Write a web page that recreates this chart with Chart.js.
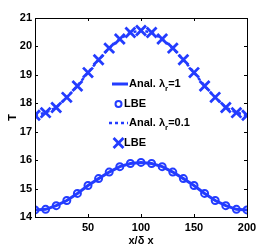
<!DOCTYPE html>
<html>
<head>
<meta charset="utf-8">
<script src="https://cdn.jsdelivr.net/npm/chart.js@4.4.1/dist/chart.umd.min.js"></script>
<style>
html,body{margin:0;padding:0;background:#fff;}
#wrap{position:relative;width:274px;height:249px;}
</style>
</head>
<body>
<div id="wrap"><canvas id="c" width="274" height="249"></canvas></div>
<script>
// ---- data ----
const xPositions = [0,10,20,30,40,50,60,70,80,90,100,110,120,130,140,150,160,170,180,190,200];
const tempLambda1 = [14.25,14.27,14.40,14.58,14.83,15.11,15.35,15.58,15.77,15.88,15.92,15.88,15.77,15.58,15.35,15.11,14.83,14.58,14.40,14.27,14.25];
const tempLambda01 = [17.58,17.67,17.85,18.21,18.61,19.08,19.53,19.94,20.26,20.49,20.56,20.49,20.26,19.94,19.53,19.08,18.61,18.21,17.85,17.67,17.58];
const xTickValues = [50,100,150,200];
const yTickValues = [14,15,16,17,18,19,20,21];
const legendLabels = [
  ['Anal. λ','r','=1'],
  ['LBE','',''],
  ['Anal. λ','r','=0.1'],
  ['LBE','','']
];

const BLUE = 'rgb(35,60,255)';
const FONT = {family:'"Liberation Sans", Arial, sans-serif', size:11, weight:'bold'};

const pts = arr => xPositions.map((x,i)=>({x:x, y:arr[i]}));

const boxAndTicks = {
  id:'boxAndTicks',
  afterDraw(chart){
    const ctx = chart.ctx, a = chart.chartArea;
    const xs = chart.scales.x, ys = chart.scales.y;
    ctx.save();
    ctx.strokeStyle = '#000';
    ctx.lineWidth = 1;
    ctx.strokeRect(Math.round(a.left)+0.5, Math.round(a.top)+0.5, Math.round(a.right-a.left), Math.round(a.bottom-a.top));
    const L = 3;
    ctx.beginPath();
    xTickValues.forEach(v=>{
      const px = Math.round(xs.getPixelForValue(v))+0.5;
      ctx.moveTo(px,a.bottom); ctx.lineTo(px,a.bottom-L);
      ctx.moveTo(px,a.top); ctx.lineTo(px,a.top+L);
    });
    yTickValues.forEach(v=>{
      const py = Math.round(ys.getPixelForValue(v))+0.5;
      ctx.moveTo(a.left,py); ctx.lineTo(a.left+L,py);
      ctx.moveTo(a.right,py); ctx.lineTo(a.right-L,py);
    });
    ctx.stroke();
    ctx.restore();
  }
};

const customLegend = {
  id:'customLegend',
  afterDraw(chart){
    const ctx = chart.ctx;
    const rows = [84,104,123,143];
    const ds = chart.data.datasets;
    ctx.save();
    ds.forEach((d,i)=>{
      const y = rows[i];
      ctx.strokeStyle = BLUE;
      let tx;
      if (d.showLine !== false) {
        ctx.lineWidth = d.borderWidth;
        ctx.setLineDash(d.borderDash || []);
        ctx.beginPath();
        ctx.moveTo(d.borderDash ? 109 : 112, y);
        ctx.lineTo(128, y);
        ctx.stroke();
        ctx.setLineDash([]);
        tx = 129;
      } else {
        ctx.fillStyle = 'rgba(0,0,0,0)';
        ctx.lineWidth = d.pointBorderWidth;
        Chart.helpers.drawPoint(ctx, {
          pointStyle: d.pointStyle, radius: d.pointStyle === 'circle' ? 3 : d.pointRadius, borderWidth: d.pointBorderWidth
        }, 118.5, y);
        tx = 124;
      }
      const lab = legendLabels[i];
      ctx.fillStyle = '#000';
      ctx.textBaseline = 'middle';
      ctx.textAlign = 'left';
      ctx.font = 'bold 11px "Liberation Sans", Arial, sans-serif';
      ctx.fillText(lab[0], tx, y);
      let w = ctx.measureText(lab[0]).width;
      if (lab[1]) {
        ctx.font = 'bold 8px "Liberation Sans", Arial, sans-serif';
        ctx.fillText(lab[1], tx + w, y + 5);
        w += ctx.measureText(lab[1]).width;
        ctx.font = 'bold 11px "Liberation Sans", Arial, sans-serif';
        ctx.fillText(lab[2], tx + w, y);
      }
    });
    ctx.restore();
  }
};

new Chart(document.getElementById('c'), {
  type:'scatter',
  data:{
    datasets:[
      {label:'Anal. λr=1', data:pts(tempLambda1), showLine:true, borderColor:BLUE, borderWidth:3, pointRadius:0, tension:0},
      {label:'LBE', data:pts(tempLambda1), showLine:false, borderColor:BLUE, backgroundColor:'rgba(0,0,0,0)', pointStyle:'circle', pointRadius:3.5, pointBorderWidth:2},
      {label:'Anal. λr=0.1', data:pts(tempLambda01), showLine:true, borderColor:BLUE, borderWidth:2.5, borderDash:[3,3], pointRadius:0, tension:0},
      {label:'LBE', data:pts(tempLambda01), showLine:false, borderColor:BLUE, backgroundColor:BLUE, pointStyle:'crossRot', pointRadius:7, pointBorderWidth:2.8}
    ]
  },
  options:{
    responsive:false,
    animation:false,
    events:[],
    layout:{padding:{left:0, top:18, right:27, bottom:0}},
    plugins:{legend:{display:false}, tooltip:{enabled:false}},
    scales:{
      x:{
        type:'linear', min:0, max:200,
        afterBuildTicks(s){ s.ticks = xTickValues.map(v=>({value:v})); },
        afterFit(s){ s.height = 32; },
        grid:{display:false, drawTicks:false},
        border:{display:false},
        ticks:{color:'#000', font:FONT, padding:4, maxRotation:0, autoSkip:false},
        title:{display:true, text:'x/δ x', color:'#000', font:FONT, padding:{top:1,bottom:1}}
      },
      y:{
        min:14, max:21,
        afterBuildTicks(s){ s.ticks = yTickValues.map(v=>({value:v})); },
        afterFit(s){ s.width = 35; },
        grid:{display:false, drawTicks:false},
        border:{display:false},
        ticks:{color:'#000', font:FONT, padding:3, autoSkip:false},
        title:{display:true, text:'T', color:'#000', font:FONT, padding:{top:6,bottom:0}}
      }
    }
  },
  plugins:[boxAndTicks, customLegend]
});
</script>
</body>
</html>
